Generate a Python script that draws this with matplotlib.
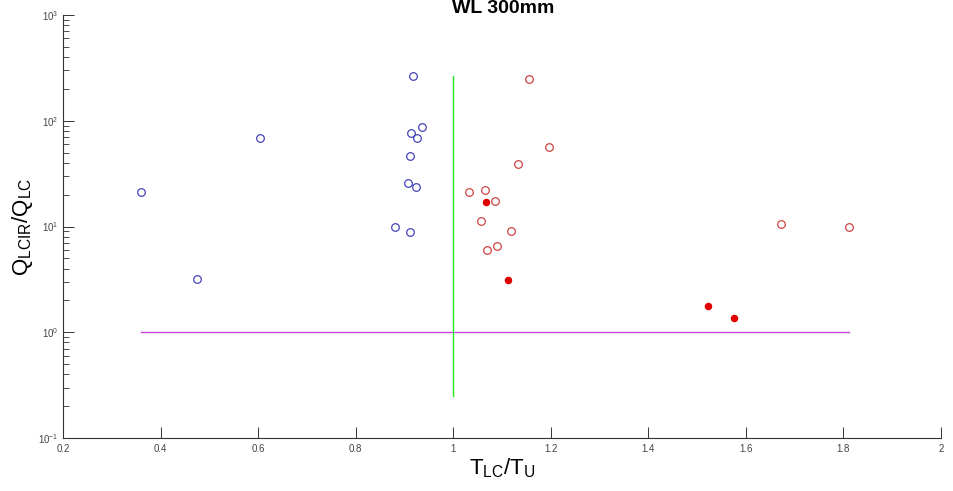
import matplotlib
matplotlib.use("Agg")
import matplotlib.pyplot as plt
import numpy as np

plt.rcParams['font.family'] = ['Liberation Sans', 'DejaVu Sans']
plt.rcParams['mathtext.fontset'] = 'custom'
plt.rcParams['mathtext.rm'] = 'Liberation Sans'
plt.rcParams['mathtext.it'] = 'Liberation Sans'
plt.rcParams['mathtext.bf'] = 'Liberation Sans:bold'

# Blue open circles (T_LC/T_U < 1)
blue_x = [0.36, 0.475, 0.604, 0.917, 0.937, 0.914, 0.925, 0.912, 0.908, 0.923, 0.881, 0.912]
blue_y = [21.2, 3.19, 68.7, 263, 87.9, 77, 68.7, 46.7, 25.6, 23.8, 9.8, 8.8]

# Red open circles (T_LC/T_U > 1)
red_x = [1.155, 1.196, 1.133, 1.033, 1.066, 1.086, 1.056, 1.119, 1.089, 1.070, 1.671, 1.812]
red_y = [246, 56.9, 38.7, 21.2, 22.0, 17.5, 11.3, 9.07, 6.59, 5.96, 10.6, 9.96]

# Red filled points
redf_x = [1.068, 1.113, 1.523, 1.576]
redf_y = [17.2, 3.12, 1.77, 1.37]

title = "WL 300mm"
xlabel = r"$\mathregular{T_{LC}/T_{U}}$"
ylabel = r"$\mathregular{Q_{LCIR}/Q_{LC}}$"
x_ticks = [0.2, 0.4, 0.6, 0.8, 1.0, 1.2, 1.4, 1.6, 1.8, 2.0]
x_ticklabels = ["0.2", "0.4", "0.6", "0.8", "1", "1.2", "1.4", "1.6", "1.8", "2"]
y_min, y_max = 0.1, 1000
green_low = 0.25

fig = plt.figure(figsize=(9.54, 4.91), dpi=100)
ax = fig.add_axes([63/954, 53/491, 878/954, 423/491])

all_x = blue_x + red_x + redf_x
all_y = blue_y + red_y + redf_y

ax.plot([min(all_x), max(all_x)], [1, 1], color='#cc44dd', lw=1.0)
ax.plot([1, 1], [green_low, max(all_y)], color='#22ee22', lw=1.0)

ax.plot(blue_x, blue_y, 'o', mfc='none', mec='#4444bb', ms=5.5, mew=0.9, ls='none')
ax.plot(red_x, red_y, 'o', mfc='none', mec='#cc4444', ms=5.5, mew=0.9, ls='none')
ax.plot(redf_x, redf_y, 'o', mfc='#e00000', mec='#e00000', ms=4.5, mew=0.9, ls='none')

ax.set_yscale('log')
ax.set_ylim(y_min, y_max)
ax.set_xlim(0.2, 2.0)
ax.set_xticks(x_ticks)
ax.set_xticklabels(x_ticklabels)

for s in ['top', 'right']:
    ax.spines[s].set_visible(False)
for s in ['left', 'bottom']:
    ax.spines[s].set_color('#333333')
    ax.spines[s].set_linewidth(0.8)

ax.tick_params(axis='both', which='major', direction='in', length=8, width=0.7,
               colors='#333333', labelsize=7, labelcolor='#444444')
ax.tick_params(axis='y', which='minor', direction='in', length=4, width=0.6, colors='#333333')
ax.tick_params(axis='x', which='major', pad=4)

ax.set_xlabel(xlabel, fontsize=16, labelpad=2)
ax.set_ylabel(ylabel, fontsize=16, labelpad=2)

fig.text(0.527, 1 - 13/491, title, ha='center', va='baseline', fontsize=14, fontweight='bold')

fig.savefig('out.png', dpi=100)
